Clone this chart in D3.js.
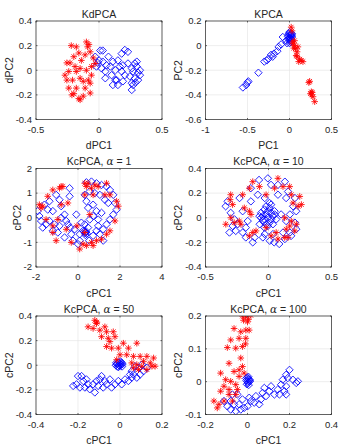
<!DOCTYPE html>
<html>
<head>
<meta charset="utf-8">
<script src="https://cdn.jsdelivr.net/npm/d3@7"></script>
<style>
body { margin: 0; background: #fff; }
text { font-family: "Liberation Sans", Arial, sans-serif; fill: #262626; }
</style>
</head>
<body>
<script>
// ---- data: [x, y] per point ----
var kdRed = [[-0.22,0.20],[-0.18,0.19],[-0.10,0.23],[-0.09,0.19],[-0.07,0.15],[-0.255,0.06],[-0.23,0.06],[-0.14,0.08],[-0.045,0.10],[-0.06,0.03],
  [-0.24,-0.01],[-0.18,-0.01],[-0.10,0.00],[-0.255,-0.08],[-0.21,-0.08],[-0.15,-0.065],[-0.085,-0.08],[-0.24,-0.145],[-0.18,-0.145],[-0.11,-0.145],
  [-0.215,-0.20],[-0.15,-0.24],[-0.125,-0.21],[-0.07,-0.185],[-0.16,0.14],[-0.11,0.125],[-0.19,0.03],[-0.125,-0.09],[-0.27,-0.04],[-0.06,-0.04],
  [-0.07,-0.105],[-0.20,0.11],[-0.15,0.015],[-0.03,0.055],[-0.16,-0.23],[-0.2,-0.19],[-0.08,0.21]];
var kdBlue = [[0.01,0.16],[0.03,0.16],[-0.03,0.11],[0.0,0.08],[0.03,0.07],[-0.02,0.03],[0.02,0.015],[0.05,-0.01],[0.05,-0.065],[0.09,0.03],
  [0.11,0.07],[0.15,0.08],[0.13,0.0],[0.10,-0.04],[0.14,-0.08],[0.18,-0.01],[0.19,0.04],[0.205,0.165],[0.23,0.15],[0.18,0.135],
  [0.23,0.055],[0.205,-0.04],[0.19,-0.09],[0.15,-0.12],[0.11,-0.12],[0.245,-0.05],[0.26,-0.105],[0.285,0.055],[0.30,0.03],[0.325,0.0],
  [0.27,-0.01],[0.285,-0.065],[0.31,-0.08],[0.325,-0.04],[0.26,-0.16],[0.27,-0.12],[0.30,0.07],[0.26,0.015],[0.075,0.11],[0.165,0.03],
  [0.13,-0.08],[0.06,0.04],[0.31,-0.02],[0.29,-0.1],[-0.01,0.06]];

var kRed = [[0.02,0.15],[0.04,0.03],[0.06,0.0],[0.07,-0.025],[0.09,-0.05],[0.08,-0.08],[0.11,-0.13],[0.14,-0.12],[0.16,-0.13],[0.04,0.015],
  [0.06,0.04],[0.10,-0.01],[0.23,-0.30],[0.24,-0.29],[0.26,-0.375],[0.265,-0.40],[0.28,-0.415],[0.30,-0.455],[0.25,-0.39],[0.05,-0.02],
  [0.09,-0.09],[0.12,-0.11],[0.03,0.12],[0.27,-0.38]];
var kBlue = [[-0.555,-0.34],[-0.515,-0.32],[-0.49,-0.29],[-0.37,-0.22],[-0.30,-0.13],[-0.27,-0.12],[-0.25,-0.105],[-0.20,-0.09],[-0.185,-0.065],[-0.145,-0.045],
  [-0.13,-0.01],[-0.10,0.01],[-0.08,0.07],[-0.04,0.04],[-0.03,0.02],[0.0,0.11],[0.01,0.08],[0.02,0.055],[-0.01,0.05],[0.03,0.095],
  [0.01,0.03],[-0.02,0.075],[0.02,0.1],[0.0,0.06],[0.03,0.07],[-0.01,0.09],[0.02,0.04],[0.0,0.02],[-0.5,-0.3],[-0.22,-0.075],
  [0.01,0.065],[0.015,0.09],[0.025,0.08],[-0.005,0.1],[0.005,0.045]];

var c1Red = [[-1.68,0.47],[-1.2,1.13],[-0.8,1.27],[-0.72,1.27],[-1.44,0.87],[-1.84,0.53],[-1.76,0.4],[-1.52,-0.07],[-1.2,-0.33],[-1.2,-0.6],
  [-1.04,-0.93],[-0.8,0.53],[-0.96,-0.07],[-0.05,-0.33],[0.08,-1.27],[0.32,1.4],[0.48,1.4],[0.8,1.33],[0.96,1.27],[0.32,0.93],
  [0.72,0.93],[1.28,0.93],[1.52,0.93],[1.84,0.67],[1.92,0.47],[1.76,-0.13],[0.56,0.13],[0.32,-0.6],[0.24,-1.07],[0.64,-1.0],
  [0.88,-0.93],[1.12,-0.87],[1.36,-0.67],[1.52,-0.53],[-0.32,-1.0],[-0.48,0.6],[-0.88,1.2],[0.4,1.27],[1.36,1.4],[0.64,1.2],
  [-0.56,-0.47],[0.4,-1.13],[0.72,-1.13]];
var c1Blue = [[-1.92,0.27],[-1.84,0.07],[-1.76,-0.13],[-1.68,-0.4],[-1.52,-0.27],[-1.6,0.53],[-1.36,0.67],[-1.44,0.33],[-1.2,0.27],[-1.36,-0.13],
  [-1.12,-0.27],[-1.2,-0.53],[-0.96,-0.6],[-1.04,0.93],[-0.88,0.73],[-0.8,0.47],[-0.64,0.13],[-0.8,0.0],[-0.56,-0.13],[-0.4,1.2],
  [-0.4,0.87],[-0.37,-0.4],[-0.32,-0.67],[-0.08,0.13],[-0.64,-0.8],[-0.24,-0.93],[0.08,-0.93],[0.24,-0.53],[0.32,-0.27],[0.37,-0.6],
  [0.48,-0.4],[0.53,-0.93],[0.72,-0.73],[0.88,-0.53],[0.96,-0.33],[1.04,-0.67],[1.2,-0.47],[1.36,-0.27],[1.2,-0.93],[1.52,-0.07],
  [1.68,0.13],[1.84,0.33],[1.76,0.6],[1.68,0.93],[1.52,1.13],[1.36,1.27],[1.12,1.33],[0.88,1.4],[0.64,1.47],[0.4,1.44],
  [0.56,1.07],[0.8,1.0],[1.04,0.93],[1.28,0.73],[1.44,0.6],[0.4,0.67],[0.48,0.4],[0.72,0.53],[0.88,0.27],[1.12,0.2],
  [0.72,0.07],[0.32,0.93],[0.96,-0.07],[0.16,-0.2],[0.56,-0.07],[0.08,-0.67],[-0.16,-0.47],[-0.48,-0.27],[-0.88,-0.33],[0.0,-1.07],
  [0.3,-0.55],[0.42,-0.65],[0.35,-0.7],[0.38,-0.55],[0.33,-0.62]];

var c10Red = [[-0.30,0.187],[-0.305,0.147],[-0.285,0.107],[-0.205,0.187],[-0.125,0.293],[-0.072,0.253],[0.075,0.32],[0.168,0.253],[0.181,0.187],[0.248,0.173],
  [0.261,0.107],[0.235,0.093],[0.195,0.12],[0.128,0.0],[0.181,-0.027],[0.168,-0.067],[0.221,-0.053],[0.141,-0.093],[0.208,-0.107],[0.128,-0.16],
  [0.061,-0.12],[-0.019,-0.08],[-0.099,-0.107],[-0.152,-0.147],[-0.125,-0.12],[-0.219,-0.053],[-0.232,-0.027],[-0.272,-0.04],[-0.339,-0.053],[-0.299,0.0],
  [-0.152,0.053],[-0.192,0.08],[-0.139,0.027],[-0.152,0.24],[-0.019,0.187],[0.048,0.24],[0.115,0.253],[0.021,-0.147],[0.075,-0.173],[0.155,-0.16]];
var c10Blue = [[-0.34,0.093],[-0.325,0.133],[-0.30,0.04],[-0.27,-0.013],[-0.285,-0.067],[-0.31,-0.12],[-0.26,-0.107],[-0.245,-0.053],[-0.205,-0.12],[-0.18,-0.08],
  [-0.165,-0.027],[-0.205,0.053],[-0.23,0.16],[-0.14,0.24],[-0.085,0.187],[-0.075,0.307],[-0.005,0.32],[0.02,0.267],[-0.03,0.16],[0.075,0.267],
  [0.13,0.293],[0.155,0.213],[0.14,0.16],[0.21,0.16],[0.195,0.093],[0.22,0.053],[0.17,0.027],[0.14,-0.027],[0.21,-0.04],[0.22,-0.093],
  [0.17,-0.12],[0.13,-0.173],[0.085,-0.213],[0.045,-0.2],[0.01,-0.187],[-0.045,-0.16],[-0.11,-0.16],[-0.18,-0.16],[-0.125,-0.2],[-0.03,-0.133],
  [0.035,-0.133],[0.115,-0.12],[0.18,-0.147],[-0.14,0.133],[0.075,0.187],[0.10,0.027],[-0.07,-0.053],
  [-0.059,0.04],[-0.045,0.013],[-0.032,0.067],[-0.019,0.027],[-0.005,0.053],[0.008,0.08],[0.021,0.04],[0.035,0.013],[-0.005,0.0],[-0.032,-0.013],
  [0.021,-0.013],[0.048,0.053],[-0.045,-0.027],[0.008,-0.04],[-0.019,-0.053],[0.035,-0.053],[0.061,-0.013],[-0.059,0.0],[-0.019,0.093],[0.021,0.107],
  [0.008,0.12],[0.048,0.027],[-0.072,0.013],[-0.005,-0.067],[-0.032,-0.08]];

var c50Red = [[-0.152,0.312],[-0.12,0.365],[-0.112,0.339],[-0.128,0.299],[-0.096,0.285],[-0.072,0.312],[-0.064,0.272],[-0.032,0.272],[-0.088,0.232],[-0.056,0.219],
  [-0.024,0.232],[-0.064,0.152],[-0.04,0.139],[-0.008,0.139],[0.016,0.179],[0.04,0.139],[0.08,0.179],[0.0,0.085],[0.032,0.085],[0.064,0.072],
  [0.096,0.072],[0.128,0.072],[0.16,0.059],[0.112,0.032],[0.144,0.019],[0.167,-0.008],[0.152,-0.008],[0.064,-0.021],[0.088,-0.035],[0.104,-0.008],
  [0.08,0.005],[0.056,0.019],[0.128,-0.035],[-0.016,0.045],[-0.048,0.192],[-0.11,0.35]];
var c50Blue = [[-0.2,-0.088],[-0.207,-0.155],[-0.191,-0.181],[-0.175,-0.128],[-0.167,-0.181],[-0.152,-0.155],[-0.144,-0.195],[-0.128,-0.155],[-0.12,-0.221],[-0.104,-0.168],
  [-0.096,-0.115],[-0.088,-0.088],[-0.08,-0.181],[-0.064,-0.155],[-0.048,-0.115],[-0.04,-0.181],[-0.024,-0.155],[-0.008,-0.128],[0.008,-0.155],[0.024,-0.115],
  [0.04,-0.128],[0.056,-0.101],[0.064,-0.075],[0.08,-0.101],[0.096,-0.075],[0.112,-0.048],[0.072,-0.008],[0.088,-0.021],[0.104,0.005],[0.128,-0.021],
  [0.056,-0.048],[0.048,-0.075],[-0.183,-0.088],[-0.16,-0.115],[-0.112,-0.128],[-0.072,-0.128],[-0.223,-0.168],
  [-0.015,0.01],[-0.01,0.02],[-0.005,0.025],[0.0,0.015],[0.005,0.005],[-0.02,0.0],[-0.012,-0.01],[0.0,-0.005],[0.008,0.02],[-0.005,0.0],
  [0.01,-0.01],[-0.018,0.02],[0.003,0.03],[-0.008,-0.015],[0.012,0.01]];

var c100Red = [[-0.024,0.2],[-0.008,0.197],[0.016,0.202],[-0.019,0.187],[0.0,0.182],[-0.064,0.162],[-0.008,0.157],[-0.032,0.152],[0.008,0.157],[-0.08,0.127],
  [-0.04,0.132],[-0.008,0.132],[-0.096,0.104],[-0.056,0.102],[-0.024,0.107],[-0.032,0.072],[-0.088,0.056],[-0.064,0.031],[-0.04,0.036],[-0.016,0.026],
  [-0.024,0.046],[-0.128,0.026],[-0.104,0.006],[-0.08,0.001],[-0.056,-0.009],[-0.112,-0.014],[-0.128,-0.029],[-0.088,-0.024],[-0.16,-0.059],[-0.136,-0.069],
  [-0.144,-0.08],[-0.112,-0.059],[-0.088,-0.039],[-0.072,-0.059],[-0.056,-0.039],[-0.04,0.016],[-0.048,-0.024],[0.005,0.19],[-0.01,0.115]];
var c100Blue = [[-0.112,-0.059],[-0.096,-0.075],[-0.08,-0.085],[-0.064,-0.069],[-0.056,-0.09],[-0.032,-0.085],[-0.04,-0.069],[-0.016,-0.08],[0.0,-0.075],[0.016,-0.059],
  [0.032,-0.064],[0.04,-0.044],[0.064,-0.054],[0.072,-0.034],[0.088,-0.044],[0.104,-0.029],[0.112,-0.014],[0.128,-0.039],[0.144,-0.024],[0.16,-0.009],
  [0.176,-0.029],[0.184,-0.014],[0.168,0.006],[0.192,0.011],[0.2,0.036],[0.184,0.021],[0.216,0.006],[0.232,-0.004],[0.24,0.001],[-0.048,-0.039],
  [-0.072,-0.039],[-0.08,-0.059],[0.056,-0.069],[0.008,-0.049],[-0.024,-0.054],[0.08,-0.019],[0.184,-0.039],[0.152,-0.039],
  [0.0,0.012],[0.005,0.008],[-0.005,0.004],[0.008,0.0],[0.002,-0.004],[-0.003,-0.008],[0.01,0.006],[0.004,0.015],[-0.006,0.01],[0.006,-0.01],
  [0.0,0.0],[0.012,0.002]];

// ---- panel titles, labels, domains and ticks ----
var titles = ["KdPCA", "KPCA", "KcPCA, |1", "KcPCA, |10", "KcPCA, |50", "KcPCA, |100"];
var xLabels = ["dPC1", "PC1", "cPC1", "cPC1", "cPC1", "cPC1"];
var yLabels = ["dPC2", "PC2", "cPC2", "cPC2", "cPC2", "cPC2"];
var xTicks = [[-0.5,0,0.5], [-1,-0.5,0,0.5], [-2,0,2,4], [-0.5,0,0.5], [-0.4,-0.2,0,0.2], [-0.2,0,0.2,0.4]];
var yTicks = [[-0.4,-0.2,0,0.2,0.4], [-0.6,-0.4,-0.2,0,0.2], [-2,-1,0,1,2], [-0.4,-0.2,0,0.2,0.4], [-0.4,-0.2,0,0.2,0.4], [-0.1,0,0.1,0.2]];
var redSets = [kdRed, kRed, c1Red, c10Red, c50Red, c100Red];
var blueSets = [kdBlue, kBlue, c1Blue, c10Blue, c50Blue, c100Blue];

var W = 342, H = 447;
var colLeft = [36, 205.5], plotW = 126;
var rowTop = [21, 168.5, 316], plotH = 98.5;

var svg = d3.select("body").append("svg")
    .attr("width", W)
    .attr("height", H);

svg.append("rect").attr("width", W).attr("height", H).attr("fill", "#fff");

var starPath = function(s) {
    var d = s * 0.7071;
    return "M" + (-s) + ",0L" + s + ",0M0," + (-s) + "L0," + s +
        "M" + (-d) + "," + (-d) + "L" + d + "," + d + "M" + (-d) + "," + d + "L" + d + "," + (-d);
};
var diamondPath = function(s) {
    return "M0," + (-s) + "L" + s + ",0L0," + s + "L" + (-s) + ",0Z";
};

titles.forEach(function(title, i) {
    var left = colLeft[i % 2], top = rowTop[Math.floor(i / 2)];
    var xt = xTicks[i], yt = yTicks[i];

    var x = d3.scaleLinear().domain(d3.extent(xt)).range([left, left + plotW]);
    var y = d3.scaleLinear().domain(d3.extent(yt)).range([top + plotH, top]);

    var g = svg.append("g");

    // grid
    g.append("g").selectAll("line").data(xt).enter().append("line")
        .attr("x1", function(d) { return x(d); }).attr("x2", function(d) { return x(d); })
        .attr("y1", top).attr("y2", top + plotH)
        .attr("stroke", "#e3e3e3").attr("stroke-width", 0.6);
    g.append("g").selectAll("line").data(yt).enter().append("line")
        .attr("y1", function(d) { return y(d); }).attr("y2", function(d) { return y(d); })
        .attr("x1", left).attr("x2", left + plotW)
        .attr("stroke", "#e3e3e3").attr("stroke-width", 0.6);

    // points, clipped to the axes box
    svg.append("clipPath").attr("id", "clip" + i)
        .append("rect").attr("x", left).attr("y", top).attr("width", plotW).attr("height", plotH);
    var pts = g.append("g").attr("clip-path", "url(#clip" + i + ")");

    pts.selectAll("path.blue").data(blueSets[i]).enter().append("path")
        .attr("class", "blue")
        .attr("d", diamondPath(3.7))
        .attr("transform", function(d) { return "translate(" + x(d[0]) + "," + y(d[1]) + ")"; })
        .attr("fill", "none").attr("stroke", "#0000ff").attr("stroke-width", 0.85);

    pts.selectAll("path.red").data(redSets[i]).enter().append("path")
        .attr("class", "red")
        .attr("d", starPath(3.3))
        .attr("transform", function(d) { return "translate(" + x(d[0]) + "," + y(d[1]) + ")"; })
        .attr("fill", "none").attr("stroke", "#ff0000").attr("stroke-width", 0.85);

    // box
    g.append("rect")
        .attr("x", left).attr("y", top).attr("width", plotW).attr("height", plotH)
        .attr("fill", "none").attr("stroke", "#262626").attr("stroke-width", 0.7);

    // inward ticks on all four sides
    xt.forEach(function(v) {
        g.append("line").attr("x1", x(v)).attr("x2", x(v)).attr("y1", top + plotH).attr("y2", top + plotH - 1.5)
            .attr("stroke", "#262626").attr("stroke-width", 0.7);
        g.append("line").attr("x1", x(v)).attr("x2", x(v)).attr("y1", top).attr("y2", top + 1.5)
            .attr("stroke", "#262626").attr("stroke-width", 0.7);
    });
    yt.forEach(function(v) {
        g.append("line").attr("y1", y(v)).attr("y2", y(v)).attr("x1", left).attr("x2", left + 1.5)
            .attr("stroke", "#262626").attr("stroke-width", 0.7);
        g.append("line").attr("y1", y(v)).attr("y2", y(v)).attr("x1", left + plotW).attr("x2", left + plotW - 1.5)
            .attr("stroke", "#262626").attr("stroke-width", 0.7);
    });

    // tick labels
    g.selectAll("text.xt").data(xt).enter().append("text")
        .attr("class", "xt")
        .attr("x", function(d) { return x(d); })
        .attr("y", top + plotH + 13)
        .attr("text-anchor", "middle")
        .style("font-size", "9.5px")
        .text(function(d) { return String(d); });

    var maxW = 0;
    g.selectAll("text.yt").data(yt).enter().append("text")
        .attr("class", "yt")
        .attr("x", left - 4)
        .attr("y", function(d) { return y(d); })
        .attr("dy", "0.35em")
        .attr("text-anchor", "end")
        .style("font-size", "9.5px")
        .text(function(d) { return String(d); })
        .each(function() { maxW = Math.max(maxW, this.getComputedTextLength()); });

    // axis labels
    g.append("text")
        .attr("x", left + plotW / 2)
        .attr("y", top + plotH + 29.5)
        .attr("text-anchor", "middle")
        .style("font-size", "10.5px")
        .text(xLabels[i]);

    g.append("text")
        .attr("transform", "translate(" + (left - 4 - maxW - 3) + "," + (top + plotH / 2) + ") rotate(-90)")
        .attr("text-anchor", "middle")
        .style("font-size", "10.5px")
        .text(yLabels[i]);

    // title, with an italic alpha where there is one
    var parts = title.split("|");
    var t = g.append("text")
        .attr("x", left + plotW / 2)
        .attr("y", top - 3.5)
        .attr("text-anchor", "middle")
        .style("font-size", "10.5px");
    t.append("tspan").text(parts[0]);
    if (parts.length > 1) {
        t.append("tspan").style("font-style", "italic").style("font-family", "'DejaVu Serif', serif").text("\u03b1");
        t.append("tspan").text(" = " + parts[1]);
    }
});
</script>
</body>
</html>
